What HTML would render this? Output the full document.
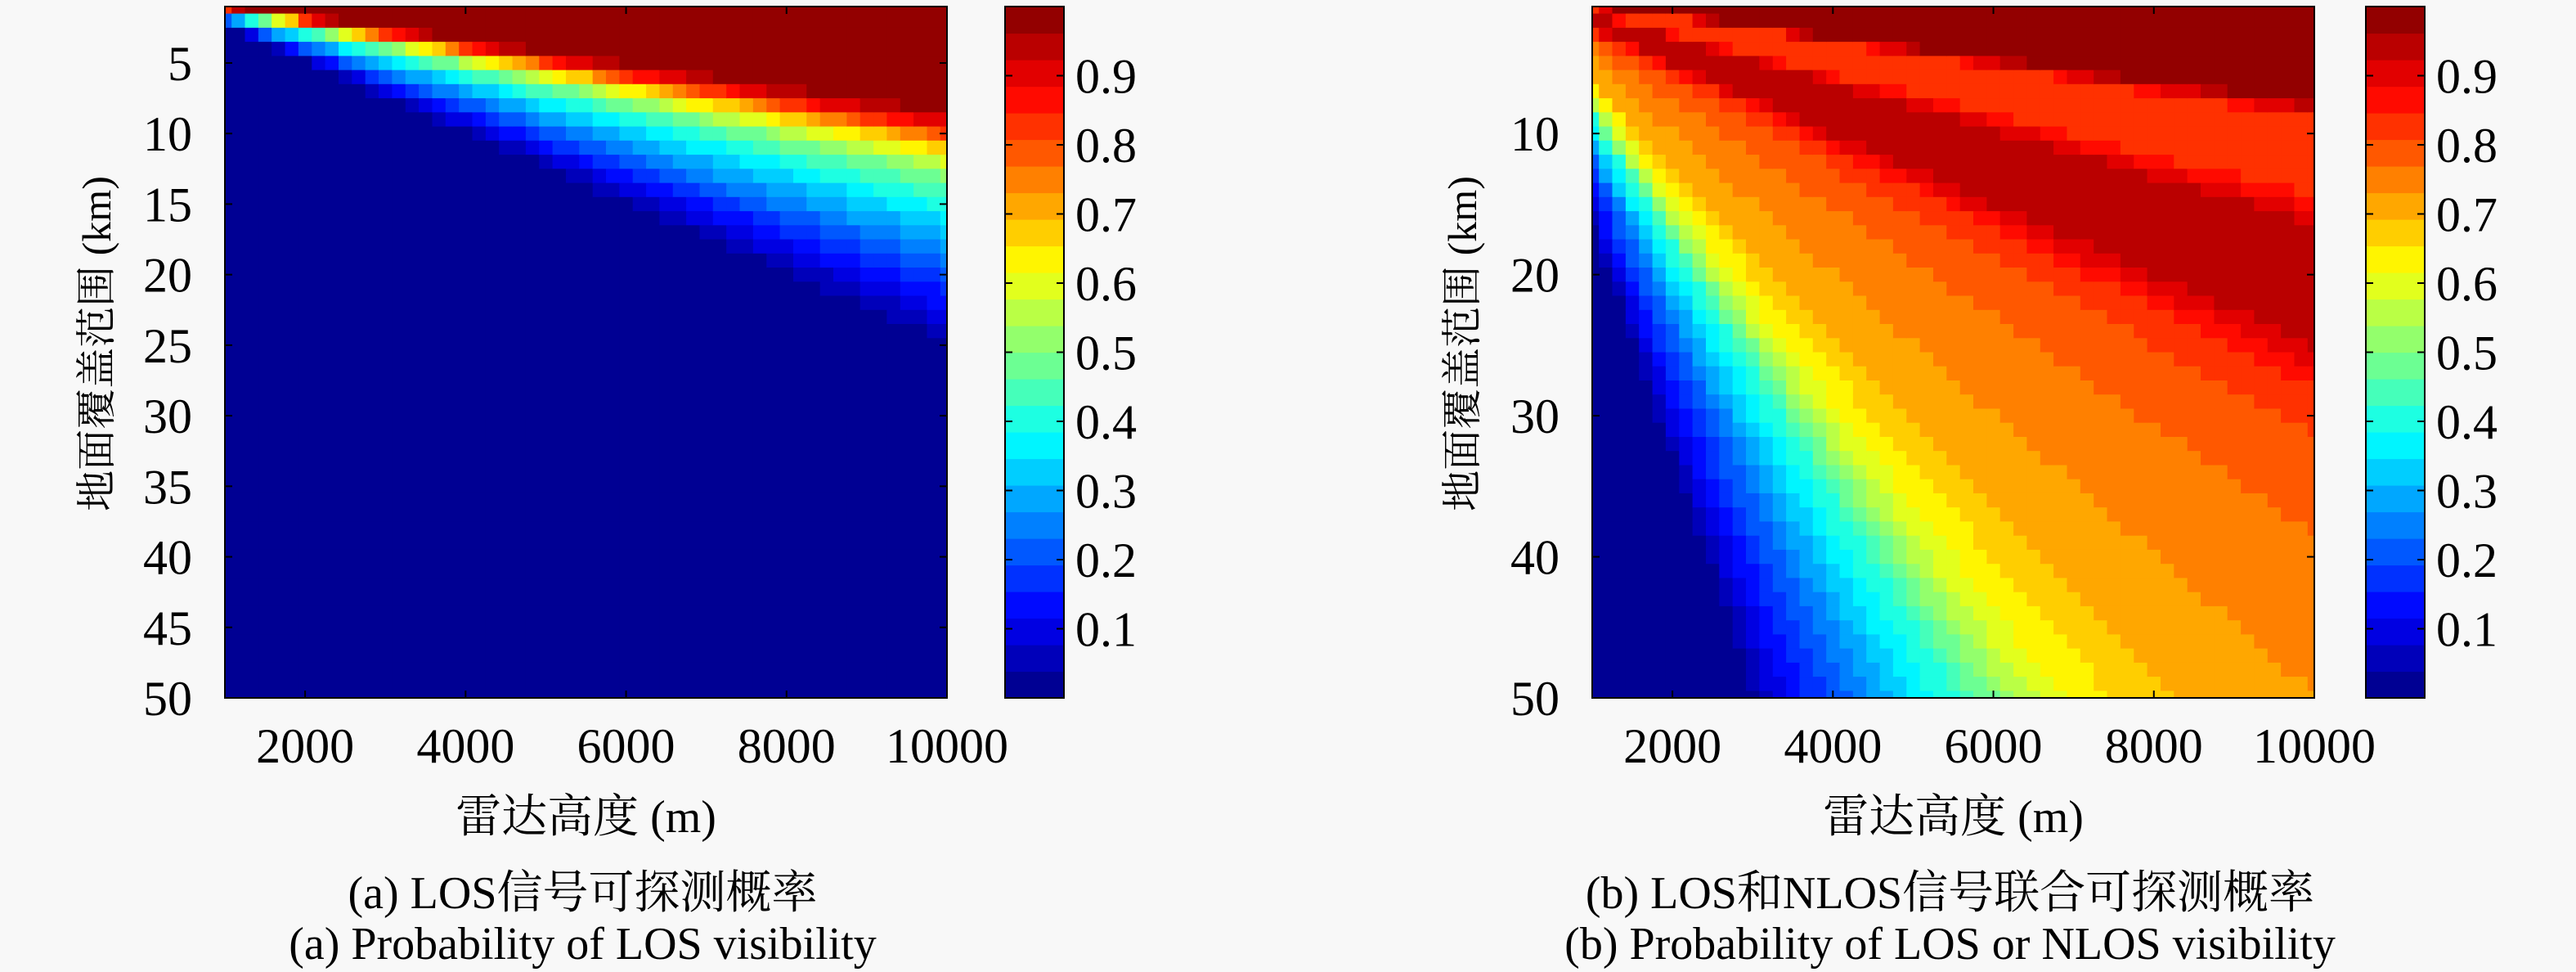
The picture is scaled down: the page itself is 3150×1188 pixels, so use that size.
<!DOCTYPE html>
<html><head><meta charset="utf-8">
<style>
html,body{margin:0;padding:0;background:#f8f8f8;}
svg{display:block;}
text{font-family:"Liberation Serif","Noto Serif CJK SC",serif;fill:#000;}
</style></head>
<body>
<svg id="fig" width="3150" height="1188" viewBox="0 0 3150 1188" xmlns="http://www.w3.org/2000/svg">
<rect width="3150" height="1188" fill="#f8f8f8"/>
<g id="pa"></g>
<g id="pb"></g>
</svg>
<script>
// ---- data ----
const altitudes = []; for (let i = 0; i < 55; i++) altitudes.push(1000 + i * 9000 / 54);
const ranges = []; for (let j = 1; j <= 50; j++) ranges.push(j);
// panel a: probability profile vs ratio s = range(km)/altitude(km)
const sA = [0, 0.8, 0.95, 1.1, 1.3, 1.6, 2.0, 2.4, 2.6, 100];
const pA = [1, 1, 0.88, 0.68, 0.5, 0.35, 0.2, 0.06, 0, 0];
// panel b: joint LOS / NLOS profile vs ratio s
const sB = [0, 0.75, 0.9, 1.4, 1.7, 2.4, 2.9, 4, 6, 7.5, 9, 11, 13, 15, 17, 100];
const pB = [1, 1, 0.84, 0.83, 0.95, 0.95, 0.82, 0.76, 0.7, 0.6, 0.42, 0.28, 0.18, 0.1, 0.01, 0];
const yTicksA = [5, 10, 15, 20, 25, 30, 35, 40, 45, 50];
const yTicksB = [10, 20, 30, 40, 50];
const xTicks = [2000, 4000, 6000, 8000, 10000];
const cTicks = [0.1, 0.2, 0.3, 0.4, 0.5, 0.6, 0.7, 0.8, 0.9];

const NS = "http://www.w3.org/2000/svg";
function mk(tag, attrs, parent) { const e = document.createElementNS(NS, tag); for (const k in attrs) e.setAttribute(k, attrs[k]); parent.appendChild(e); return e; }
function interp(xs, ys, v) { for (let i = 1; i < xs.length; i++) { if (v <= xs[i]) { const t = (v - xs[i-1]) / (xs[i] - xs[i-1]); return ys[i-1] + t * (ys[i] - ys[i-1]); } } return ys[ys.length-1]; }
const NLEV = 26;
function jet(v) {
  v = Math.max(0, Math.min(0.9999, v));
  v = (Math.floor(v * NLEV) + 0.5) / NLEV;
  const r = Math.max(0, Math.min(1, 1.5 - Math.abs(4 * v - 3)));
  const g = Math.max(0, Math.min(1, 1.5 - Math.abs(4 * v - 2)));
  const b = Math.max(0, Math.min(1, 1.5 - Math.abs(4 * v - 1)));
  return "rgb(" + Math.round(r*255) + "," + Math.round(g*255) + "," + Math.round(b*255) + ")";
}

function panel(g, cfg) {
  const L = cfg.L, R = cfg.R, T = 8, B = 853;
  const xS = v => L + (v - 1000) / 9000 * (R - L);
  const yS = v => T + (v - 1) / 49 * (B - T);
  const clip = mk("clipPath", {id: cfg.id + "clip"}, g);
  mk("rect", {x: L, y: T, width: R - L, height: B - T}, clip);
  const hm = mk("g", {"clip-path": "url(#" + cfg.id + "clip)"}, g);
  
  
  const dx = 9000 / 54, dy = 1;
  altitudes.forEach(a => {
    ranges.forEach(r => {
      const p = interp(cfg.s, cfg.p, r / (a / 1000));
      const x0 = xS(a - dx / 2), x1 = xS(a + dx / 2), y0 = yS(r - dy / 2), y1 = yS(r + dy / 2);
      const c = mk("rect", {x: x0.toFixed(1), y: y0.toFixed(1), width: (x1 - x0 + 0.8).toFixed(1), height: (y1 - y0 + 0.8).toFixed(1), fill: jet(p)}, hm);
      
      
    });
  });
  const fr = mk("rect", {x: L, y: T, width: R - L, height: B - T, fill: "none", stroke: "#000", "stroke-width": 2}, g);
  
  
  cfg.yt.forEach(v => {
    const y = yS(v);
    mk("line", {x1: L, x2: L + 9, y1: y, y2: y, stroke: "#000", "stroke-width": 2}, g);
    mk("line", {x1: R, x2: R - 9, y1: y, y2: y, stroke: "#000", "stroke-width": 2}, g);
    const t = mk("text", {x: L - 40, y: y + 21, "font-size": 60, "text-anchor": "end"}, g);
    t.textContent = v;
    
    
  });
  xTicks.forEach(v => {
    const x = xS(v);
    mk("line", {x1: x, x2: x, y1: B, y2: B - 9, stroke: "#000", "stroke-width": 2}, g);
    mk("line", {x1: x, x2: x, y1: T, y2: T + 9, stroke: "#000", "stroke-width": 2}, g);
    const t = mk("text", {x: x, y: 932, "font-size": 60, "text-anchor": "middle"}, g);
    t.textContent = v;
    
    
  });
  const cx = (L + R) / 2;
  const xl = mk("text", {x: cx, y: 1017, "font-size": 56, "text-anchor": "middle"}, g);
  xl.textContent = "雷达高度 (m)";
  
  
  const yl = mk("text", {x: 0, y: 0, "font-size": 50, "text-anchor": "middle", transform: "translate(" + cfg.yl + ",420) rotate(-90)"}, g);
  yl.textContent = "地面覆盖范围 (km)";
  
  
  const c1 = mk("text", {x: cx - 4, y: 1110, "font-size": 56, "text-anchor": "middle"}, g);
  c1.textContent = cfg.cap1;
  
  
  const c2 = mk("text", {x: cx - 4, y: 1172, "font-size": 56, "text-anchor": "middle"}, g);
  c2.textContent = cfg.cap2;
  
  
  const CL = cfg.CL, CR = CL + 72;
  const cS = v => B - v * (B - T);
  const cb = mk("g", {}, g);
  
  
  for (let k = 0; k < NLEV; k++) {
    const v0 = k / NLEV, v1 = (k + 1) / NLEV;
    const r = mk("rect", {x: CL, y: cS(v1).toFixed(1), width: 72, height: (cS(v0) - cS(v1) + 0.6).toFixed(1), fill: jet((k + 0.5) / NLEV)}, cb);
    
    
  }
  mk("rect", {x: CL, y: T, width: 72, height: B - T, fill: "none", stroke: "#000", "stroke-width": 2}, cb);
  cTicks.forEach(v => {
    const y = cS(v);
    mk("line", {x1: CR, x2: CR - 9, y1: y, y2: y, stroke: "#000", "stroke-width": 2}, cb);
    mk("line", {x1: CL, x2: CL + 9, y1: y, y2: y, stroke: "#000", "stroke-width": 2}, cb);
    const t = mk("text", {x: CR + 14, y: y + 21, "font-size": 60}, cb);
    t.textContent = v.toFixed(1);
    
    
  });
}
panel(document.getElementById("pa"), {id: "a", L: 275, R: 1158, CL: 1229, s: sA, p: pA, yt: yTicksA, yl: 135, cap1: "(a) LOS信号可探测概率", cap2: "(a) Probability of LOS visibility"});
panel(document.getElementById("pb"), {id: "b", L: 1947, R: 2830, CL: 2893, s: sB, p: pB, yt: yTicksB, yl: 1805, cap1: "(b) LOS和NLOS信号联合可探测概率", cap2: "(b) Probability of LOS or NLOS visibility"});
</script>
</body></html>
